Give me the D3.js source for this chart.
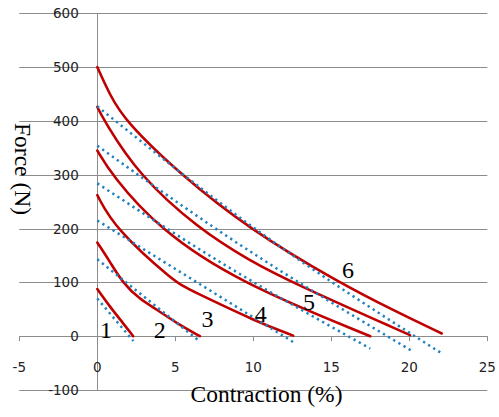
<!DOCTYPE html>
<html>
<head>
<meta charset="utf-8">
<script src="https://cdn.jsdelivr.net/npm/d3@7"></script>
</head>
<body style="margin:0">
<div id="chart"></div>
<script>
// ---- data ----
const curveNames = ["1", "2", "3", "4", "5", "6"];

// measured force vs contraction (red solid)
const measuredX = [
  [0, 0.81, 1.67, 2.3],
  [0, 0.82, 1.6, 2.74, 3.8, 5.09, 6.58],
  [0, 1.13, 4.98, 5.94, 10.2, 12.56],
  [0, 0.92, 3.91, 9.04, 17.5],
  [0, 0.45, 2.63, 6.47, 9.79, 12.46, 20.05],
  [0, 0.81, 1.78, 5.35, 9.7, 15.45, 19.4, 22.08]
];
const measuredF = [
  [87.5, 54.6, 23.6, 0],
  [174, 138, 100, 68, 50, 24, 0],
  [262, 200, 100, 86, 27, 1],
  [345, 300, 200, 100, 0],
  [426, 400, 300, 200, 140, 100, 2],
  [500, 448, 400, 300, 200, 100, 42, 5]
];

// model / fit (blue dotted)
const fitX = [
  [0, 2.31],
  [0, 6.54],
  [0, 12.56],
  [0, 8.2, 17.5],
  [0, 8.2, 20.26],
  [0, 10.1, 22.08]
];
const fitF = [
  [70, -9],
  [143, -9],
  [215, -11],
  [284, 132, -23],
  [354, 188, -29],
  [427, 200, -32]
];

// where the curve numbers sit
const labelX = [0.56, 4.0, 7.06, 10.48, 13.57, 16.07];
const labelF = [-3.7, -3.7, 16.8, 26.6, 48.4, 107.4];

const xTicks = [-5, 0, 5, 10, 15, 20, 25];
const yTicks = [-100, 0, 100, 200, 300, 400, 500, 600];

// ---- layout ----
const width = 499, height = 417;

const svg = d3.select("#chart").append("svg")
  .attr("width", width)
  .attr("height", height)
  .style("display", "block");

const x = d3.scaleLinear().domain([-5, 25]).range([19.3, 487.3]);
const y = d3.scaleLinear().domain([-100, 600]).range([390, 13.3]);

const gridColor = "#8c8c8c";

// horizontal gridlines
svg.append("g")
  .selectAll("line")
  .data(yTicks)
  .join("line")
  .attr("x1", x(-5))
  .attr("x2", x(25))
  .attr("y1", d => Math.round(y(d)) + 0.5)
  .attr("y2", d => Math.round(y(d)) + 0.5)
  .attr("stroke", gridColor)
  .attr("stroke-width", 1);

// vertical axis at x = 0
svg.append("line")
  .attr("x1", Math.round(x(0)) + 0.5)
  .attr("x2", Math.round(x(0)) + 0.5)
  .attr("y1", y(600))
  .attr("y2", y(-100))
  .attr("stroke", gridColor);

// x tick marks hanging below the zero line
svg.append("g")
  .selectAll("line")
  .data(xTicks)
  .join("line")
  .attr("x1", d => Math.round(x(d)) + 0.5)
  .attr("x2", d => Math.round(x(d)) + 0.5)
  .attr("y1", y(0))
  .attr("y2", y(0) + 5)
  .attr("stroke", gridColor);

// tick labels
svg.append("g")
  .selectAll("text")
  .data(yTicks)
  .join("text")
  .attr("x", x(0) - 18.5)
  .attr("y", d => y(d) + 5)
  .attr("text-anchor", "end")
  .style("font-family", "DejaVu Sans")
  .style("font-size", "13.5px")
  .style("fill", "#222")
  .text(d => d);

svg.append("g")
  .selectAll("text")
  .data(xTicks)
  .join("text")
  .attr("x", d => x(d))
  .attr("y", y(0) + 36)
  .attr("text-anchor", "middle")
  .style("font-family", "DejaVu Sans")
  .style("font-size", "13.5px")
  .style("fill", "#222")
  .text(d => d);

// ---- series ----
const smooth = d3.line()
  .x(d => x(d[0]))
  .y(d => y(d[1]))
  .curve(d3.curveBasis);

const straight = d3.line()
  .x(d => x(d[0]))
  .y(d => y(d[1]))
  .curve(d3.curveMonotoneX);

const measured = curveNames.map((name, i) => measuredX[i].map((v, j) => [v, measuredF[i][j]]));
const fitted = curveNames.map((name, i) => fitX[i].map((v, j) => [v, fitF[i][j]]));

svg.append("g")
  .selectAll("path")
  .data(measured)
  .join("path")
  .attr("d", smooth)
  .attr("fill", "none")
  .attr("stroke", "#c00000")
  .attr("stroke-width", 2.6)
  .attr("stroke-linecap", "round");

svg.append("g")
  .selectAll("path")
  .data(fitted)
  .join("path")
  .attr("d", straight)
  .attr("fill", "none")
  .attr("stroke", "#1f82c0")
  .attr("stroke-width", 2.5)
  .attr("stroke-dasharray", "2.3 3.7");

// curve numbers
svg.append("g")
  .selectAll("text")
  .data(curveNames)
  .join("text")
  .attr("x", (d, i) => x(labelX[i]))
  .attr("y", (d, i) => y(labelF[i]))
  .attr("text-anchor", "middle")
  .style("font-family", "Liberation Serif")
  .style("font-size", "24px")
  .text(d => d);

// axis titles
svg.append("text")
  .attr("transform", "translate(15,169) rotate(90)")
  .attr("text-anchor", "middle")
  .style("font-family", "Liberation Serif")
  .style("font-size", "23.5px")
  .text("Force (N)");

svg.append("text")
  .attr("x", 266.5)
  .attr("y", 402)
  .attr("text-anchor", "middle")
  .style("font-family", "Liberation Serif")
  .style("font-size", "23.5px")
  .text("Contraction (%)");
</script>
</body>
</html>
